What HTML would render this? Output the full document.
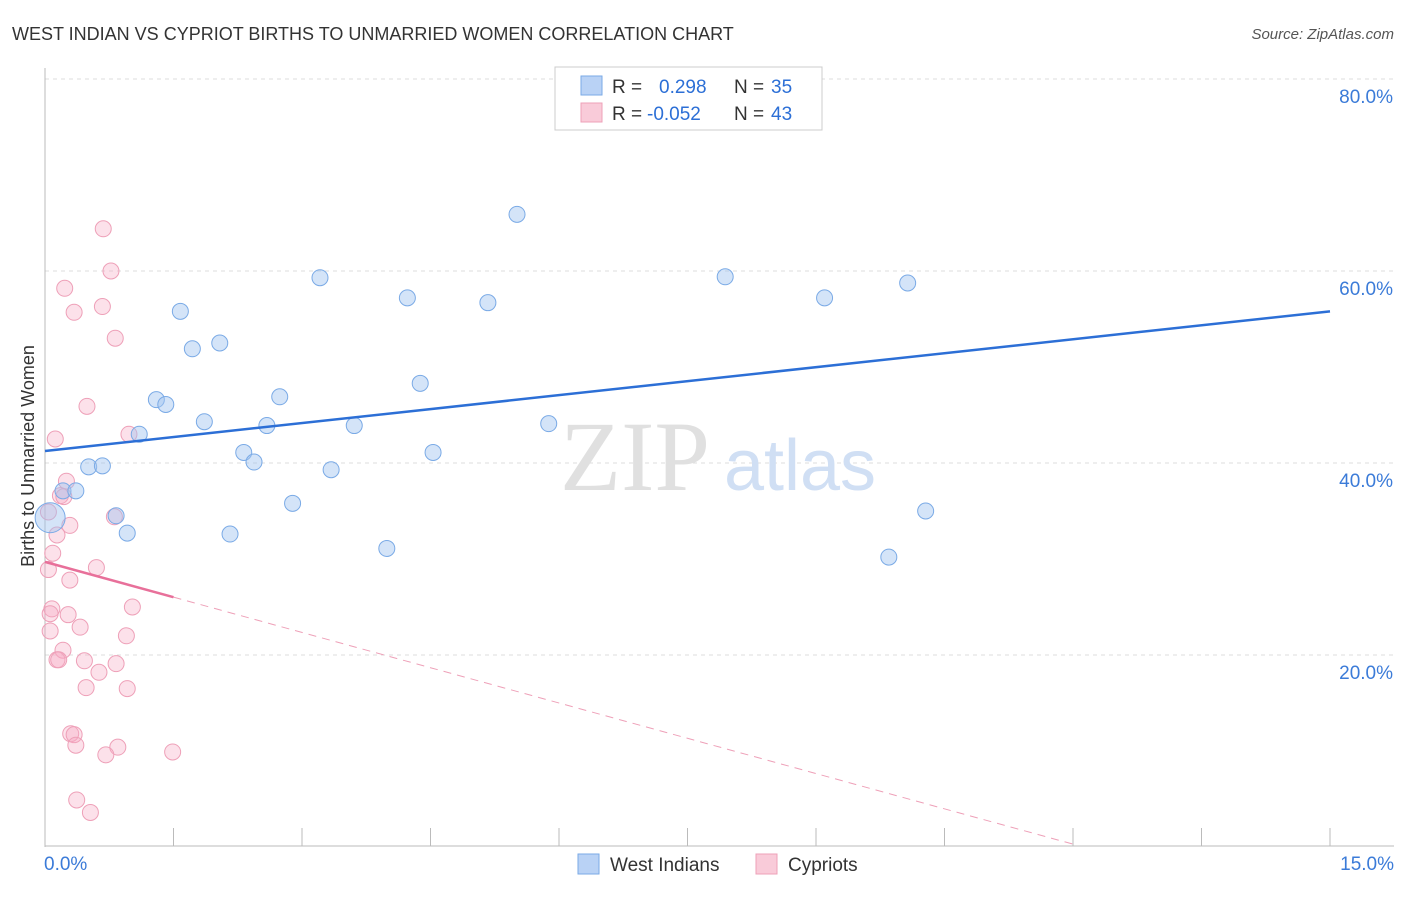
<!DOCTYPE html>
<html><head><meta charset="utf-8"><style>
body{margin:0;background:#fff;font-family:"Liberation Sans",sans-serif;}
svg text{font-family:"Liberation Sans",sans-serif;}
</style></head><body>
<svg id="chart" width="1406" height="892" viewBox="0 0 1406 892">
<text x="12" y="40" font-size="18" fill="#333">WEST INDIAN VS CYPRIOT BIRTHS TO UNMARRIED WOMEN CORRELATION CHART</text>
<text x="1394" y="39" font-size="15" fill="#555" text-anchor="end" font-style="italic">Source: ZipAtlas.com</text>
<g id="grid"></g>
<g id="watermark">
<text x="635" y="490" font-size="100" fill="#e0e0e0" style="font-family:'Liberation Serif',serif" text-anchor="middle">ZIP</text>
<text x="800" y="490" font-size="72" fill="#d0dff4" text-anchor="middle">atlas</text>
</g>
<g id="axes"></g>
<text transform="translate(34,456) rotate(-90)" font-size="18" fill="#333" text-anchor="middle">Births to Unmarried Women</text>
<g id="pts"></g>
<g id="lines"></g>
<g>
<rect x="555" y="67" width="267" height="63" fill="#fff" stroke="#ccc"/>
<rect x="581" y="76" width="21" height="19" fill="#b9d2f5" stroke="#7aaae6"/>
<rect x="581" y="103" width="21" height="19" fill="#f9cbd9" stroke="#eea0b8"/>
<text x="612" y="93" font-size="19" fill="#333">R =</text>
<text x="659" y="93" font-size="19" fill="#2c6fd6">0.298</text>
<text x="734" y="93" font-size="19" fill="#333">N =</text>
<text x="771" y="93" font-size="19" fill="#2c6fd6">35</text>
<text x="612" y="120" font-size="19" fill="#333">R =</text>
<text x="647" y="120" font-size="19" fill="#2c6fd6">-0.052</text>
<text x="734" y="120" font-size="19" fill="#333">N =</text>
<text x="771" y="120" font-size="19" fill="#2c6fd6">43</text>
</g>
<g>
<rect x="578" y="854" width="21" height="20" fill="#b9d2f5" stroke="#7aaae6"/>
<text x="610" y="871" font-size="19" fill="#333">West Indians</text>
<rect x="756" y="854" width="21" height="20" fill="#f9cbd9" stroke="#eea0b8"/>
<text x="788" y="871" font-size="19" fill="#333">Cypriots</text>
</g>
</svg>
<script>
const blueX=[5.51,3.21,4.23,5.17,7.94,9.10,10.07,1.58,1.72,2.04,4.38,1.30,1.41,2.74,1.86,1.10,2.59,3.61,5.88,2.32,2.44,4.53,0.51,0.67,3.34,0.21,0.36,2.89,0.83,10.28,0.96,2.16,3.99,9.85,0.06];
const blueY=[65.9,59.3,57.2,56.7,59.4,57.2,58.75,55.8,51.9,52.5,48.3,46.6,46.1,46.9,44.3,43.0,43.9,43.9,44.1,41.1,40.1,41.1,39.6,39.7,39.3,37.1,37.1,35.8,34.5,35.0,32.7,32.6,31.1,30.2,34.3];
const pinkX=[0.68,0.77,0.23,0.34,0.67,0.82,0.49,0.12,0.98,0.25,0.18,0.22,0.29,0.14,0.09,0.04,0.60,0.29,0.08,0.06,0.27,1.02,0.41,0.06,0.95,0.21,0.14,0.46,0.83,0.63,0.48,0.96,0.30,0.34,0.36,0.85,0.71,1.49,0.37,0.53,0.81,0.04,0.16];
const pinkY=[64.4,60.0,58.2,55.7,56.3,53.0,45.9,42.5,43.0,38.1,36.6,36.5,33.5,32.5,30.6,28.9,29.1,27.8,24.8,24.3,24.2,25.0,22.9,22.5,22.0,20.5,19.5,19.4,19.1,18.2,16.6,16.5,11.8,11.7,10.6,10.4,9.6,9.9,4.9,3.6,34.4,34.9,19.5];
const yTicks=[20,40,60,80];
const xTickLabels=["0.0%","15.0%"];
const blueTrend=[41.25,55.8];
const pinkTrend=[29.7,0.3];
const NS="http://www.w3.org/2000/svg";
const X=v=>45+v/15*1285, Y=v=>847-v*9.6;
function mk(tag,attrs,parent){const e=document.createElementNS(NS,tag);for(const k in attrs)e.setAttribute(k,attrs[k]);document.getElementById(parent).appendChild(e);return e;}
yTicks.forEach(t=>{
 let l=mk('line',{x1:45,x2:1394,y1:Y(t),y2:Y(t),stroke:'#ddd','stroke-dasharray':'4,4'},'grid');
 
 
 let tx=mk('text',{x:1393,y:Y(t)+24,'font-size':19,fill:'#3b7bd8','text-anchor':'end'},'axes');tx.textContent=t.toFixed(1)+'%';
 
 
});
mk('line',{x1:45,x2:45,y1:68,y2:847,stroke:'#bbb'},'axes');
mk('line',{x1:45,x2:1394,y1:846,y2:846,stroke:'#bbb'},'axes');
for(let i=0;i<=10;i++){mk('line',{x1:X(i*1.5),x2:X(i*1.5),y1:828,y2:846,stroke:'#bbb'},'axes');}
let a=mk('text',{x:44,y:870,'font-size':19,fill:'#3b7bd8'},'axes');a.textContent=xTickLabels[0];


let b=mk('text',{x:1394,y:870,'font-size':19,fill:'#3b7bd8','text-anchor':'end'},'axes');b.textContent=xTickLabels[1];


pinkX.forEach((x,i)=>{const c=mk('circle',{cx:X(x),cy:Y(pinkY[i]),r:8,fill:'rgba(245,170,195,0.35)',stroke:'#eea0b8','stroke-width':1},'pts');
 
 });
blueX.forEach((x,i)=>{const c=mk('circle',{cx:X(x),cy:Y(blueY[i]),r:i==blueX.length-1?15:8,fill:'rgba(160,195,240,0.45)',stroke:'#7aaae6','stroke-width':1},'pts');
 
 });
let bl=mk('line',{x1:X(0),y1:Y(blueTrend[0]),x2:X(15),y2:Y(blueTrend[1]),stroke:'#2c6fd6','stroke-width':2.5},'lines');


const pk=v=>pinkTrend[0]+(pinkTrend[1]-pinkTrend[0])*v/12;
let pl=mk('line',{x1:X(0),y1:Y(pk(0)),x2:X(1.5),y2:Y(pk(1.5)),stroke:'#e8709a','stroke-width':2.5},'lines');


let pd=mk('line',{x1:X(1.5),y1:Y(pk(1.5)),x2:X(12),y2:Y(pk(12)),stroke:'#eea0b8','stroke-width':1,'stroke-dasharray':'8,6'},'lines');


</script>
</body></html>
